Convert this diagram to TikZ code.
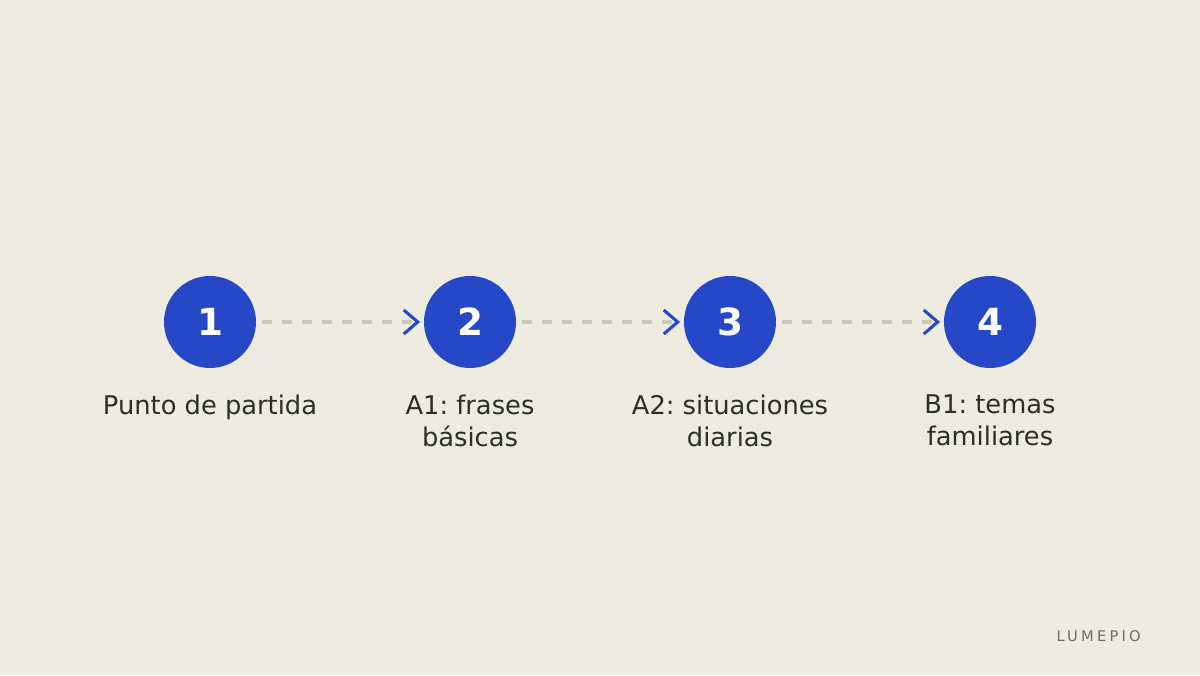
\documentclass[tikz,border=0pt]{standalone}
\usepackage{fontspec}
\setmainfont{DejaVu Sans}
\newfontfamily\spacedfont[LetterSpace=22]{DejaVu Sans}
\usetikzlibrary{calc}
\frenchspacing
\definecolor{bg}{HTML}{EEEBE0}
\definecolor{stepblue}{HTML}{2748C6}
\definecolor{dashgray}{HTML}{CDC9B8}
\definecolor{labeltext}{HTML}{2B2F28}
\definecolor{brandgray}{HTML}{6B6F64}
\tikzset{
  stepcircle/.style={circle, fill=stepblue, minimum size=92*0.75pt, inner sep=0pt, text=white, font=\fontsize{28}{32}\selectfont\bfseries},
  steplabel/.style={text=labeltext, align=center, font=\fontsize{19.3}{24}\selectfont, anchor=north},
  dashlink/.style={draw=dashgray, line width=3pt, dash pattern=on 7.5pt off 7.5pt},
  chevron/.style={draw=stepblue, line width=2.3pt, line cap=butt, line join=miter},
}
\begin{document}
\begin{tikzpicture}[x=0.75pt,y=-0.75pt]
\fill[bg] (0,0) rectangle (1200,675);
\useasboundingbox (0,0) rectangle (1200,675);
\node[stepcircle] (c1) at (210,322) {1};
\node[stepcircle] (c2) at (470,322) {2};
\node[stepcircle] (c3) at (730,322) {3};
\node[stepcircle] (c4) at (990,322) {4};
\node[steplabel] (l1) at (210,390) {Punto de partida};
\node[steplabel] (l2) at (470,390) {A1: frases\\básicas};
\node[steplabel] (l3) at (730,390) {A2: situaciones\\diarias};
\node[steplabel] (l4) at (990,390) {B1: temas\\familiares};
\foreach \a/\b in {c1/c2,c2/c3,c3/c4}{
  \draw[dashlink] ($(\a.east)+(6,0)$) -- ($(\b.west)+(-12,0)$);
  \draw[chevron] ($(\b.west)+(-20,-12)$) -- ($(\b.west)+(-6,0)$) -- ($(\b.west)+(-20,12)$);
}
\node[text=brandgray, anchor=east, font=\spacedfont\fontsize{11}{12}\selectfont, inner sep=0pt] (brand) at (1141,636) {LUMEPIO};
\end{tikzpicture}
\end{document}
